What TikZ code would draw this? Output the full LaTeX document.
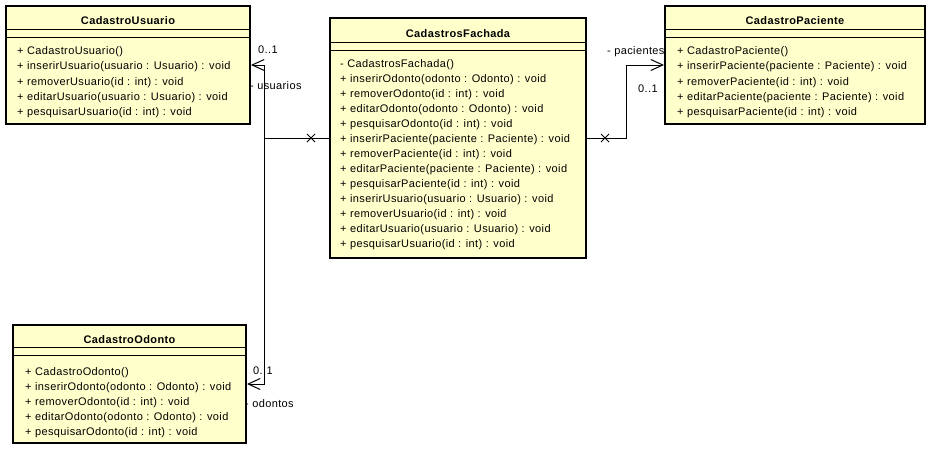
\documentclass[tikz,border=0pt]{standalone}
\usepackage{fontspec}
\setmainfont{Liberation Sans}[LetterSpace=3.5]
\usetikzlibrary{arrows.meta,shapes.misc}
\definecolor{clsfill}{HTML}{FFFFCC}
\tikzset{
  classbox/.style={draw=black, line width=2pt, fill=clsfill, rectangle, inner sep=0pt},
  sepline/.style={draw=black, line width=1pt},
  ctitle/.style={font=\fontsize{11}{13}\selectfont\bfseries, inner sep=0pt, anchor=base},
  member/.style={font=\fontsize{11}{13}\selectfont, inner sep=0pt, anchor=base west},
  lbl/.style={font=\fontsize{11}{13}\selectfont, inner sep=0pt, anchor=base west},
  assoc/.style={draw=black, line width=1pt, -{Straight Barb[length=12pt,width=11pt,line width=1pt]}},
  xmark/.style={cross out, draw=black, line width=1pt, minimum size=7pt, inner sep=0pt}
}
\begin{document}
\begin{tikzpicture}[x=1pt,y=-1pt]
\useasboundingbox (0,0) rectangle (935,453);
% ---------- CadastroUsuario ----------
\node[classbox, minimum width=244pt, minimum height=118pt] (usuario) at (128,65) {};
\draw[sepline] (6,29) -- (250,29);
\draw[sepline] (6,37) -- (250,37);
\node[ctitle] (usuarioT) at (128,24.5) {CadastroUsuario};
\node[member] (u1) at (17,54.5) {+ CadastroUsuario()};
\node[member] (u2) at (17,69.8) {+ inserirUsuario(usuario : Usuario) : void};
\node[member] (u3) at (17,85.1) {+ removerUsuario(id : int) : void};
\node[member] (u4) at (17,100.4) {+ editarUsuario(usuario : Usuario) : void};
\node[member] (u5) at (17,115.7) {+ pesquisarUsuario(id : int) : void};
% ---------- CadastrosFachada ----------
\node[classbox, minimum width=256pt, minimum height=240pt] (fachada) at (458,138) {};
\draw[sepline] (330,42) -- (586,42);
\draw[sepline] (330,50) -- (586,50);
\node[ctitle] (fachadaT) at (458,37) {CadastrosFachada};
\node[member] (f1) at (340,67.5) {- CadastrosFachada()};
\node[member] (f2) at (340,82.5) {+ inserirOdonto(odonto : Odonto) : void};
\node[member] (f3) at (340,97.5) {+ removerOdonto(id : int) : void};
\node[member] (f4) at (340,112.5) {+ editarOdonto(odonto : Odonto) : void};
\node[member] (f5) at (340,127.5) {+ pesquisarOdonto(id : int) : void};
\node[member] (f6) at (340,142.5) {+ inserirPaciente(paciente : Paciente) : void};
\node[member] (f7) at (340,157.5) {+ removerPaciente(id : int) : void};
\node[member] (f8) at (340,172.5) {+ editarPaciente(paciente : Paciente) : void};
\node[member] (f9) at (340,187.5) {+ pesquisarPaciente(id : int) : void};
\node[member] (f10) at (340,202.5) {+ inserirUsuario(usuario : Usuario) : void};
\node[member] (f11) at (340,217.5) {+ removerUsuario(id : int) : void};
\node[member] (f12) at (340,232.5) {+ editarUsuario(usuario : Usuario) : void};
\node[member] (f13) at (340,247.5) {+ pesquisarUsuario(id : int) : void};
% ---------- CadastroPaciente ----------
\node[classbox, minimum width=260pt, minimum height=118pt] (paciente) at (795,65) {};
\draw[sepline] (665,29) -- (925,29);
\draw[sepline] (665,37) -- (925,37);
\node[ctitle] (pacienteT) at (795,24.5) {CadastroPaciente};
\node[member] (p1) at (677,54.5) {+ CadastroPaciente()};
\node[member] (p2) at (677,69.8) {+ inserirPaciente(paciente : Paciente) : void};
\node[member] (p3) at (677,85.1) {+ removerPaciente(id : int) : void};
\node[member] (p4) at (677,100.4) {+ editarPaciente(paciente : Paciente) : void};
\node[member] (p5) at (677,115.7) {+ pesquisarPaciente(id : int) : void};
% ---------- CadastroOdonto ----------
\node[classbox, minimum width=233pt, minimum height=118pt] (odonto) at (129.5,384) {};
\draw[sepline] (13,347) -- (246,347);
\draw[sepline] (13,355) -- (246,355);
\node[ctitle] (odontoT) at (129.5,343.5) {CadastroOdonto};
\node[member] (o1) at (25,375) {+ CadastroOdonto()};
\node[member] (o2) at (25,390) {+ inserirOdonto(odonto : Odonto) : void};
\node[member] (o3) at (25,405) {+ removerOdonto(id : int) : void};
\node[member] (o4) at (25,420) {+ editarOdonto(odonto : Odonto) : void};
\node[member] (o5) at (25,435) {+ pesquisarOdonto(id : int) : void};
% ---------- connectors ----------
\coordinate (jl) at (264,138);
\coordinate (jr) at (626,138);
\draw[assoc] (fachada.west) -- (jl) |- (usuario.east);
\draw[assoc] (fachada.west) -- (jl) |- (odonto.east);
\draw[assoc] (fachada.east) -- (jr) |- (paciente.west);
\node[xmark] (xl) at (311,138) {};
\node[xmark] (xr) at (605,138) {};
% ---------- association labels ----------
\node[lbl] (uMult) at (258,53) {0..1};
\node[lbl] (uRole) at (250,89) {- usuarios};
\node[lbl] (oMult) at (253,374) {0..1};
\node[lbl] (oRole) at (245,407) {- odontos};
\node[lbl] (pRole) at (607,54) {- pacientes};
\node[lbl] (pMult) at (638,92) {0..1};
\end{tikzpicture}
\end{document}
